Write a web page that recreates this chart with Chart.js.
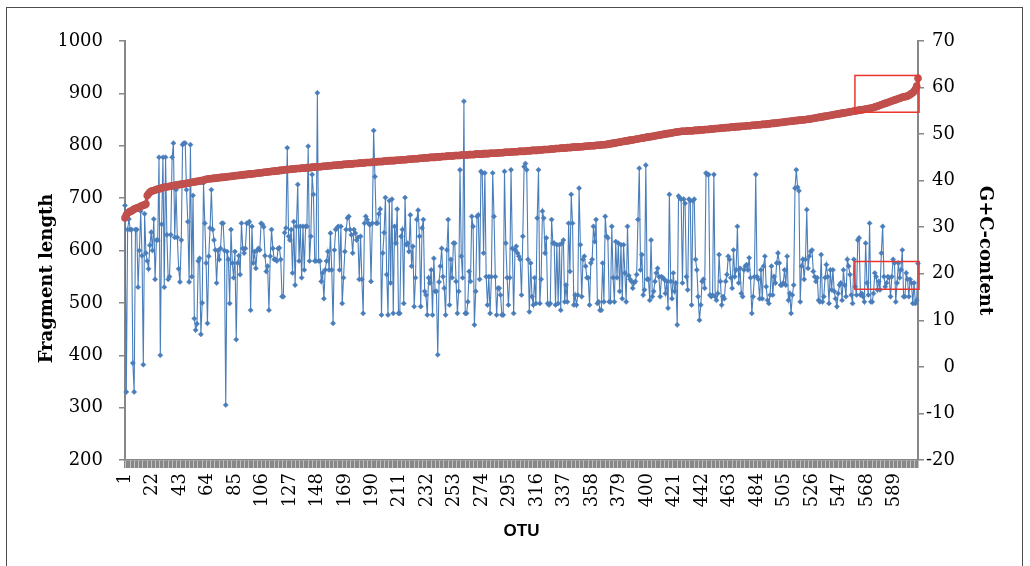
<!DOCTYPE html>
<html>
<head>
<meta charset="utf-8">
<script src="https://cdn.jsdelivr.net/npm/chart.js@4.4.1/dist/chart.umd.min.js"></script>
<style>
  html, body { margin: 0; padding: 0; background: #fff; }
  #wrap { position: relative; width: 1030px; height: 566px; overflow: hidden; }
  #frame { position: absolute; left: 6px; top: 7px; width: 1015px; height: 600px; border: 1px solid #4d4d4d; pointer-events: none; }
</style>
</head>
<body>
<div id="wrap">
  <canvas id="otuChart"></canvas>
  <div id="frame"></div>
</div>
<script>
// OTU numbers run 1..607, only every 21st one gets a label
const otuCount = 607;
const categories = Array.from({ length: otuCount }, (_, i) => String(i + 1));
const xTickLabels = ['1', '22', '43', '64', '85', '106', '127', '148', '169', '190', '211', '232', '253', '274', '295',
  '316', '337', '358', '379', '400', '421', '442', '463', '484', '505', '526', '547', '568', '589'];

// Fragment length (left axis)
const fragmentLength = [
  686,330,640,660,640,640,385,330,640,640,530,600,675,590,382,670,595,580,565,610,635,600,660,545,620,620,778,400,650,778,530,778,630,545,550,630,778,805,625,716,625,565,540,620,802,805,805,716,655,540,802,550,705,470,448,460,580,
  585,440,500,729,652,576,461,589,643,716,640,620,601,538,600,583,604,652,652,600,305,598,583,499,640,576,548,598,430,576,590,554,652,604,595,604,652,652,655,486,646,576,598,566,600,604,601,652,650,645,590,560,570,486,589,640,604,583,583,580,604,605,
  583,512,512,634,643,796,627,620,640,557,655,534,646,726,580,646,548,646,563,646,646,799,580,627,745,707,580,580,901,580,580,541,557,508,563,580,598,563,633,563,461,601,640,643,646,563,646,499,548,598,640,662,665,640,630,595,640,633,620,625,545,
  627,545,480,652,665,659,652,649,541,652,829,741,652,652,670,679,477,595,634,701,554,477,695,538,698,480,646,614,679,480,480,627,640,499,701,611,614,598,668,570,608,493,548,659,677,627,493,643,659,522,515,477,548,538,563,477,585,522,522,401,540,
  570,604,550,528,477,601,659,496,583,548,614,614,541,480,522,754,589,548,885,480,480,502,560,541,665,646,458,522,665,668,545,751,748,595,748,550,496,550,480,550,748,665,550,477,528,528,515,477,477,751,614,548,496,548,754,604,480,601,608,595,589,583,
  515,627,760,766,754,583,483,576,512,496,548,499,662,754,499,545,675,662,595,624,499,496,499,659,614,614,496,611,499,611,486,614,620,502,534,502,652,560,707,652,496,515,496,515,719,611,512,583,589,570,548,548,496,576,583,646,617,659,499,502,486,
  486,576,502,665,627,624,502,502,646,548,502,617,548,614,522,611,508,611,557,502,646,552,545,541,528,538,541,554,659,757,563,592,515,525,763,545,545,505,620,512,522,541,557,566,550,512,550,548,545,518,541,490,707,541,508,557,522,538,458,704,700,
  698,538,698,690,550,525,698,695,496,695,698,583,563,512,467,496,541,545,528,748,745,745,515,512,515,745,512,505,518,592,541,496,512,508,541,554,589,583,548,528,601,550,563,646,538,566,518,512,563,570,573,563,586,548,480,512,550,745,550,545,508,563,
  508,570,589,531,505,499,515,570,515,550,538,576,595,576,534,534,538,563,534,589,505,518,480,515,534,719,754,721,714,502,570,583,545,583,678,566,589,598,601,560,550,541,548,505,502,592,502,512,548,573,550,499,563,525,563,522,508,493,518,534,538,
  505,563,534,512,583,570,554,515,499,583,531,515,620,624,515,518,512,502,614,538,515,652,502,502,518,557,550,525,541,525,595,646,550,531,538,550,548,512,550,583,576,502,538,576,548,563,601,512,512,557,545,512,545,538,499,538,499,505,575
];

// G+C content (right axis), sorted ascending
const gcContent = [
  32.0,32.6,33.0,33.2,33.4,33.5,33.7,33.9,34.0,34.1,34.2,34.3,34.5,34.6,34.7,34.8,35.0,
  36.8,37.2,37.5,37.7,37.8,37.9,38.0,38.1,38.2,38.2,38.3,38.4,38.5,38.6,
  38.6,38.7,38.7,38.8,38.8,38.9,38.9,39.0,39.0,39.1,39.1,39.2,39.2,39.3,39.3,39.4,39.4,39.5,39.5,39.6,39.6,39.7,39.7,39.8,39.8,39.9,39.9,40.0,40.0,40.1,40.2,
  40.3,40.3,40.4,40.4,40.4,40.5,40.5,40.5,40.6,40.6,40.6,40.7,40.7,40.7,40.8,40.8,40.8,40.9,40.9,40.9,41.0,41.0,41.0,41.1,41.1,41.1,41.2,41.2,41.2,41.3,41.3,41.3,41.4,41.4,41.4,41.5,41.5,41.5,41.6,41.6,41.6,41.7,41.7,41.7,41.8,41.8,41.8,41.9,41.9,41.9,42.0,42.0,42.0,42.1,42.1,42.1,42.2,42.2,42.2,42.3,42.3,
  42.4,42.4,42.4,42.4,42.5,42.5,42.5,42.5,42.6,42.6,42.6,42.6,42.7,42.7,42.7,42.7,42.8,42.8,42.8,42.8,42.9,42.9,42.9,42.9,43.0,43.0,43.0,43.0,43.1,43.1,43.1,43.1,43.2,43.2,43.2,43.2,43.3,43.3,43.3,43.3,43.4,43.4,43.4,43.4,43.5,43.5,43.5,43.5,43.6,43.6,43.6,43.6,43.7,43.7,43.7,43.7,43.8,43.8,43.8,43.8,43.8,
  43.9,43.9,43.9,43.9,43.9,44.0,44.0,44.0,44.0,44.1,44.1,44.1,44.1,44.1,44.2,44.2,44.2,44.2,44.3,44.3,44.3,44.3,44.3,44.4,44.4,44.4,44.4,44.5,44.5,44.5,44.5,44.5,44.6,44.6,44.6,44.6,44.7,44.7,44.7,44.7,44.7,44.8,44.8,44.8,44.8,44.9,44.9,44.9,44.9,45.0,45.0,45.0,45.0,45.0,45.1,45.1,45.1,45.1,45.2,45.2,45.2,45.2,
  45.3,45.3,45.3,45.3,45.3,45.3,45.4,45.4,45.4,45.4,45.4,45.5,45.5,45.5,45.5,45.5,45.5,45.6,45.6,45.6,45.6,45.6,45.7,45.7,45.7,45.7,45.7,45.7,45.8,45.8,45.8,45.8,45.8,45.9,45.9,45.9,45.9,45.9,45.9,46.0,46.0,46.0,46.0,46.0,46.1,46.1,46.1,46.1,46.1,46.1,46.2,46.2,46.2,46.2,46.2,46.3,46.3,46.3,46.3,46.3,46.3,
  46.4,46.4,46.4,46.4,46.5,46.5,46.5,46.5,46.5,46.6,46.6,46.6,46.6,46.7,46.7,46.7,46.7,46.7,46.8,46.8,46.8,46.8,46.9,46.9,46.9,46.9,47.0,47.0,47.0,47.0,47.0,47.1,47.1,47.1,47.1,47.2,47.2,47.2,47.2,47.2,47.3,47.3,47.3,47.3,47.4,47.4,47.4,47.4,47.5,47.5,47.5,47.5,47.5,47.6,47.6,47.6,47.6,47.7,47.7,47.7,47.7,
  47.8,47.8,47.9,47.9,48.0,48.0,48.1,48.1,48.2,48.2,48.3,48.3,48.4,48.4,48.5,48.5,48.6,48.6,48.7,48.7,48.8,48.8,48.9,48.9,49.0,49.0,49.1,49.1,49.2,49.2,49.3,49.3,49.4,49.4,49.5,49.5,49.6,49.6,49.7,49.7,49.8,49.8,49.9,49.9,50.0,50.0,50.1,50.1,50.2,50.2,50.3,50.3,50.4,50.4,50.5,50.5,50.5,50.6,50.6,50.6,50.6,50.6,
  50.7,50.7,50.7,50.7,50.7,50.8,50.8,50.8,50.8,50.9,50.9,50.9,50.9,51.0,51.0,51.0,51.0,51.1,51.1,51.1,51.1,51.2,51.2,51.2,51.2,51.3,51.3,51.3,51.3,51.4,51.4,51.4,51.4,51.5,51.5,51.5,51.5,51.6,51.6,51.6,51.6,51.7,51.7,51.7,51.7,51.8,51.8,51.8,51.8,51.9,51.9,51.9,51.9,52.0,52.0,52.0,52.0,52.1,52.1,52.1,52.1,
  52.2,52.2,52.2,52.3,52.3,52.3,52.4,52.4,52.4,52.5,52.5,52.5,52.6,52.6,52.6,52.7,52.7,52.7,52.8,52.8,52.8,52.9,52.9,52.9,53.0,53.0,53.0,53.1,53.1,53.1,53.2,53.2,53.2,
  53.3,53.3,53.4,53.4,53.5,53.5,53.6,53.6,53.7,53.7,53.8,53.8,53.9,53.9,54.0,54.0,54.1,54.1,54.2,54.2,54.3,54.3,54.4,54.4,54.5,54.5,54.6,54.6,
  54.7,54.7,54.8,54.8,54.9,54.9,55.0,55.0,55.1,55.1,55.2,55.2,55.3,55.3,55.4,55.4,55.5,55.5,55.6,55.6,
  55.7,55.8,55.9,56.0,56.1,56.2,56.3,56.4,56.5,56.6,56.7,56.8,56.9,57.0,57.1,
  57.2,57.3,57.4,57.5,57.6,57.7,57.8,57.9,58.0,58.0,58.1,58.2,58.3,58.5,58.7,58.9,59.2,59.6,60.3,62.0
];

// the two red boxes drawn over the chart, in data units
const highlightBoxes = [
  { axis: 'y1', from: 557.8, to: 606.8, top: 62.6, bottom: 54.7 },
  { axis: 'y', from: 557.8, to: 606.8, top: 579, bottom: 526 }
];

if (fragmentLength.length !== otuCount || gcContent.length !== otuCount) {
  console.error('length mismatch', fragmentLength.length, gcContent.length);
}

const AXIS_GREY = '#878787';
const serif = 'DejaVu Serif';

const overlayPlugin = {
  id: 'overlay',
  afterDatasetsDraw(chart) {
    const { ctx, scales } = chart;
    ctx.save();
    ctx.strokeStyle = '#e8362f';
    ctx.lineWidth = 1.5;
    highlightBoxes.forEach(b => {
      const ys = scales[b.axis];
      const x0 = scales.x.getPixelForValue(b.from);
      const x1 = scales.x.getPixelForValue(b.to);
      const y0 = ys.getPixelForValue(b.top);
      const y1 = ys.getPixelForValue(b.bottom);
      ctx.strokeRect(x0, y0, x1 - x0, y1 - y0);
    });
    ctx.restore();
  },
  afterDraw(chart) {
    const { ctx, chartArea } = chart;
    const midY = (chartArea.top + chartArea.bottom) / 2;
    ctx.save();
    ctx.fillStyle = '#000';
    ctx.font = 'bold 18px "' + serif + '"';
    ctx.textAlign = 'center';
    ctx.textBaseline = 'middle';
    // left title sits a bit below centre in the original
    ctx.translate(chartArea.left - 78, midY + 28);
    ctx.rotate(-Math.PI / 2);
    ctx.fillText('Fragment length', 0, 0);
    ctx.restore();

    ctx.save();
    ctx.fillStyle = '#000';
    ctx.font = 'bold 18px "' + serif + '"';
    ctx.textAlign = 'center';
    ctx.textBaseline = 'middle';
    ctx.translate(chartArea.right + 67, midY);
    ctx.rotate(Math.PI / 2);
    ctx.fillText('G+C-content', 0, 0);
    ctx.restore();
  }
};

function initChart() {
  const ctx = document.getElementById('otuChart').getContext('2d');
  new Chart(ctx, {
    type: 'line',
    data: {
      labels: categories,
      datasets: [
        {
          label: 'G+C-content',
          data: gcContent,
          yAxisID: 'y1',
          order: 0,
          borderColor: '#c0504d',
          backgroundColor: '#c0504d',
          borderWidth: 3.5,
          pointStyle: 'circle',
          pointRadius: 3.8,
          pointBorderWidth: 0,
          tension: 0
        },
        {
          label: 'Fragment length',
          data: fragmentLength,
          yAxisID: 'y',
          order: 1,
          borderColor: '#4a7ebb',
          backgroundColor: '#4a7ebb',
          borderWidth: 1.1,
          pointStyle: 'rectRot',
          pointRadius: 2.6,
          pointBorderWidth: 0.5,
          tension: 0
        }
      ]
    },
    options: {
      responsive: true,
      maintainAspectRatio: false,
      animation: false,
      devicePixelRatio: 1,
      layout: { padding: { top: 41, left: 60, right: 75, bottom: 0 } },
      plugins: {
        legend: { display: false },
        tooltip: { enabled: false }
      },
      scales: {
        x: {
          type: 'category',
          offset: false,
          afterFit(scale) { scale.height = 106; },
          grid: { display: true, drawOnChartArea: false, drawTicks: true, tickLength: 8, color: AXIS_GREY, lineWidth: 1.5 },
          border: { display: true, color: AXIS_GREY, width: 1.5 },
          ticks: {
            autoSkip: false,
            minRotation: 90,
            maxRotation: 90,
            padding: 5,
            color: '#000',
            font: { family: serif, size: 18 },
            callback(val) {
              const lab = this.getLabelForValue(val);
              return xTickLabels.includes(lab) ? lab : '';
            }
          },
          title: {
            display: true,
            text: 'OTU',
            color: '#000',
            font: { family: 'Liberation Sans', size: 17, weight: 'bold' },
            padding: { top: 0, bottom: 24 }
          }
        },
        y: {
          position: 'left',
          min: 200,
          max: 1000,
          afterFit(scale) { scale.width = 65; },
          grid: { display: true, drawOnChartArea: false, drawTicks: true, tickLength: 6, color: AXIS_GREY, lineWidth: 1.5 },
          border: { display: true, color: AXIS_GREY, width: 2 },
          ticks: {
            stepSize: 100, padding: 16, color: '#000', font: { family: serif, size: 18 },
            callback: v => String(v)
          }
        },
        y1: {
          position: 'right',
          min: -20,
          max: 70,
          afterFit(scale) { scale.width = 37; },
          grid: { display: true, drawOnChartArea: false, drawTicks: true, tickLength: 6, color: AXIS_GREY, lineWidth: 1.5 },
          border: { display: true, color: AXIS_GREY, width: 2 },
          ticks: {
            stepSize: 10, padding: 2, crossAlign: 'far', color: '#000', font: { family: serif, size: 18 },
            callback: v => String(v)
          }
        }
      }
    },
    plugins: [overlayPlugin]
  });
}

window.onload = () => initChart();
</script>
</body>
</html>
